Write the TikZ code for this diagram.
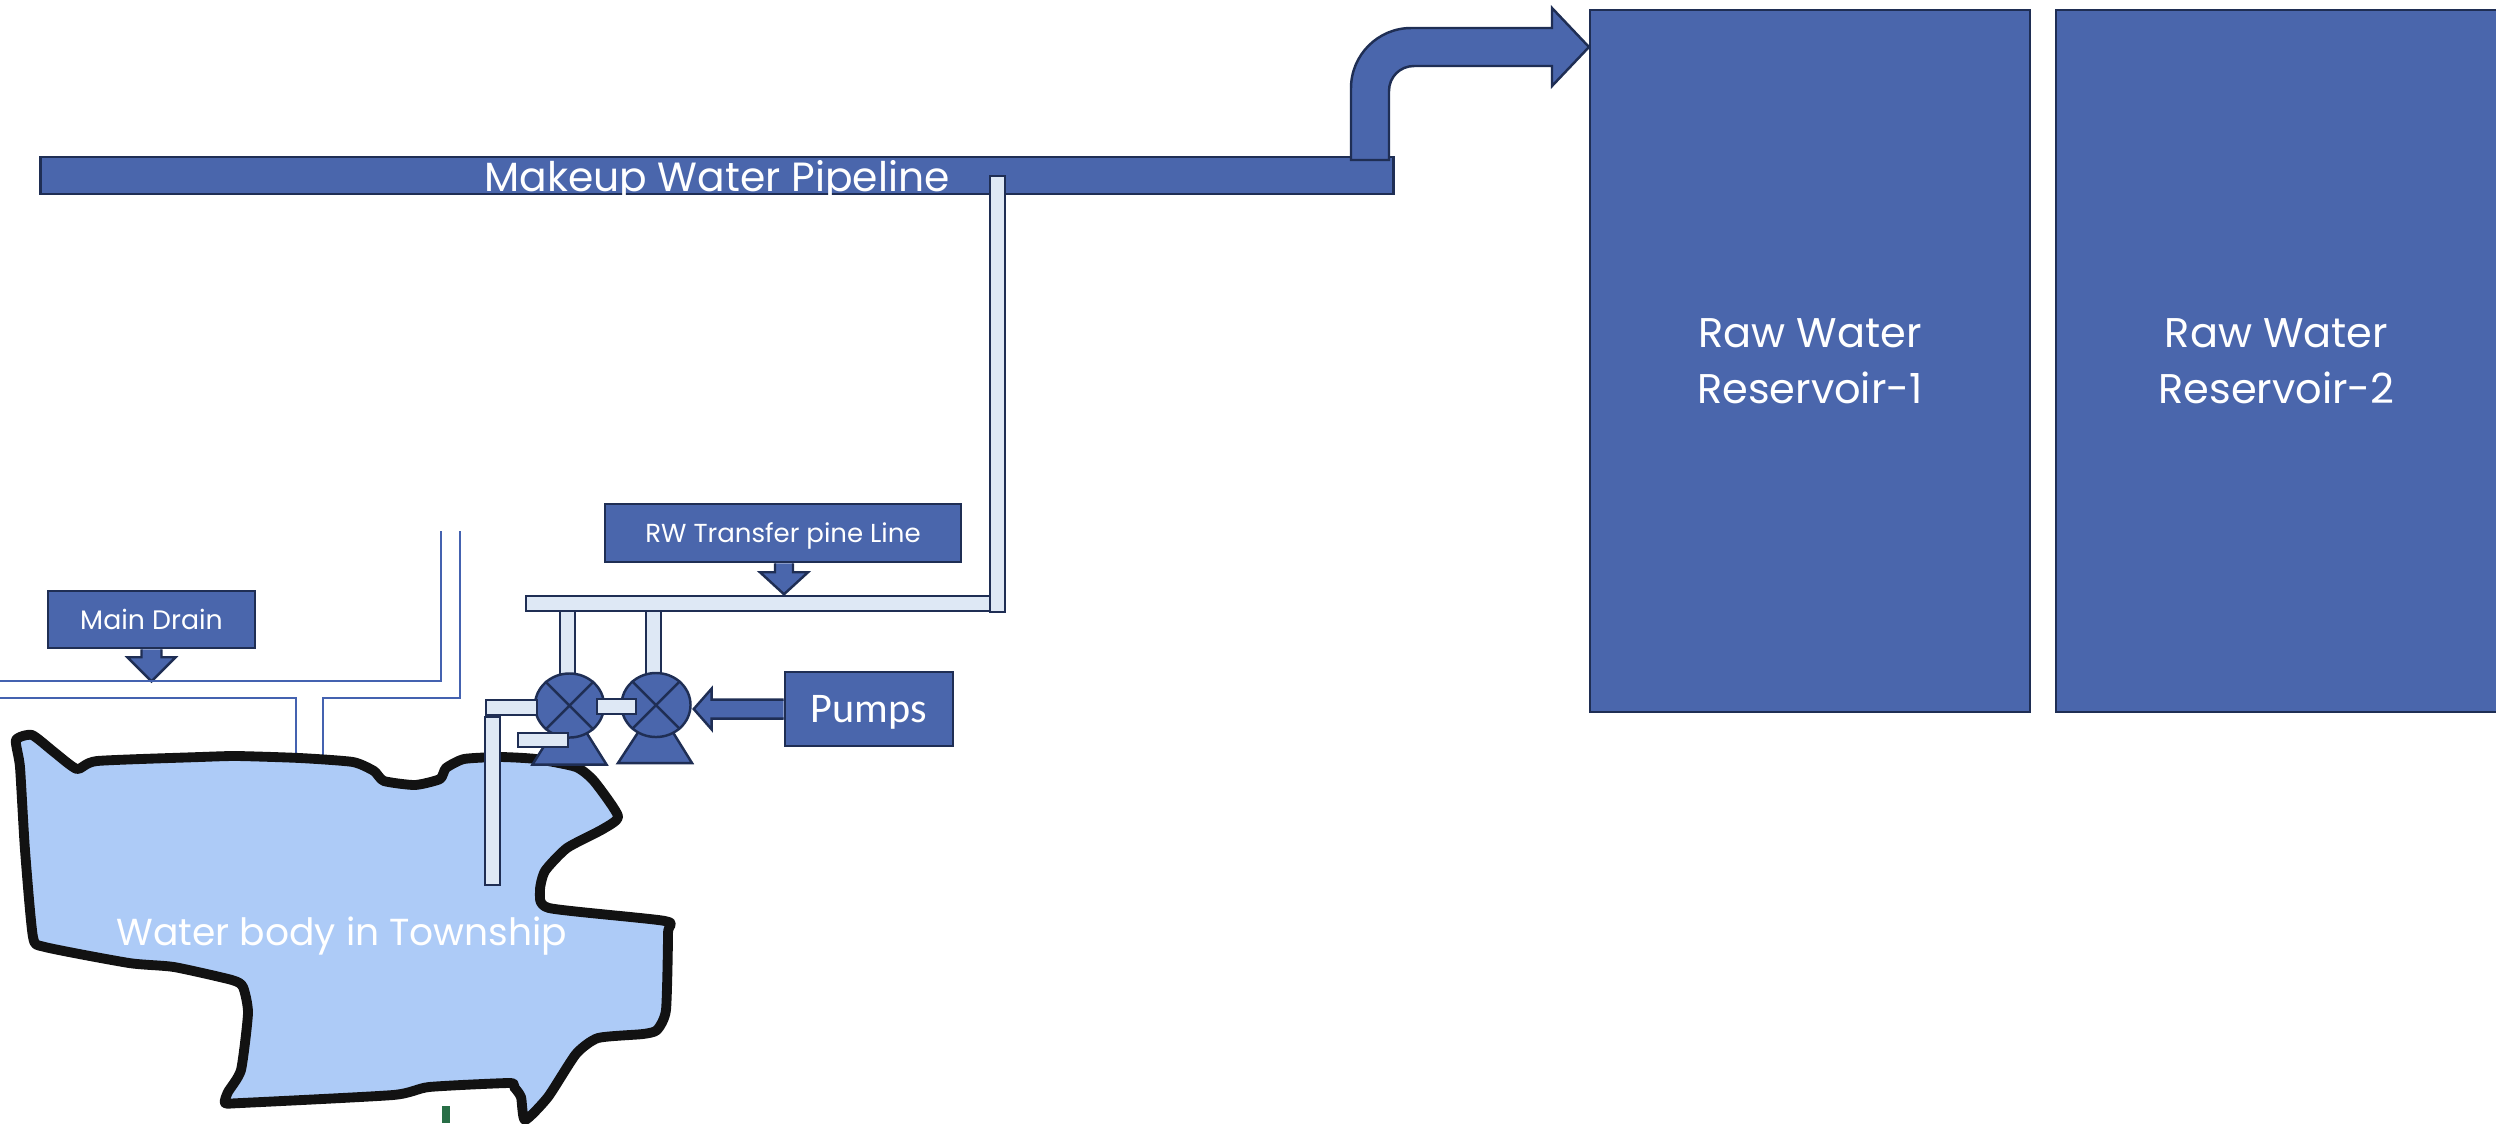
\documentclass[tikz,border=0pt]{standalone}
\usepackage{fontspec}
\setmainfont{Poppins}
\newfontfamily\pumpsfont{Carlito}
\usetikzlibrary{shapes.geometric,backgrounds}
\definecolor{pipeblue}{RGB}{74,102,172}
\definecolor{edgeblue}{RGB}{31,46,84}
\definecolor{palepipe}{RGB}{222,232,245}
\definecolor{waterblue}{RGB}{173,203,247}
\definecolor{drainblue}{RGB}{68,98,176}
\definecolor{markgreen}{RGB}{40,110,70}

\begin{document}
\begin{tikzpicture}[x=0.01cm,y=-0.01cm,
  bluebox/.style={draw=edgeblue,fill=pipeblue,line width=0.7pt,text=white,inner sep=0pt},
  lightpipe/.style={draw=edgeblue,fill=palepipe,line width=0.7pt},
  callout/.style={draw=edgeblue,fill=pipeblue,line width=0.7pt},
  drainline/.style={draw=drainblue,line width=0.45pt},
  pump/.style={ellipse,draw=edgeblue,fill=pipeblue,line width=0.7pt,
    minimum width=0.69cm,minimum height=0.64cm,inner sep=0pt}]
  \useasboundingbox (0,0) rectangle (2496,1123);

  \draw[drainline] (0,681) -- (441,681) -- (441,531);
  \draw[drainline] (0,698) -- (296,698) -- (296,762);
  \draw[drainline] (323,762) -- (323,698) -- (460,698) -- (460,531);

  \draw[line width=2.8pt,draw=black!93,fill=waterblue,line join=round]
    plot[smooth cycle,tension=0.35] coordinates {
    (16,740) (32,735) (54,752) (77,769) (97,761) (200,757) (237,756)
    (300,758) (353,762) (374,771) (384,781) (415,785) (440,779) (446,768)
    (464,759) (500,757) (536,759) (576,767) (594,781) (618,816) (603,829)
    (567,848) (545,871) (540,891) (549,908) (665,921) (668,933) (666,1010)
    (657,1030) (643,1034) (598,1038) (576,1054) (548,1097) (525,1120)
    (521,1097) (514,1087) (509,1083) (429,1087) (393,1095) (241,1103)
    (225,1103) (228,1092) (241,1070) (248,1013) (243,987) (232,980)
    (174,967) (129,963) (45,947) (33,937) (25,850) (20,767)};
  \node[anchor=base,text=white,font=\fontsize{10.7}{12}\selectfont] (water) at (342,945)
    {Water body in Township};
  \draw[markgreen,line width=2pt] (446,1106) -- (446,1123);

  \node[bluebox,minimum width=13.52cm,minimum height=0.37cm,text depth=0pt,
    font=\fontsize{11.6}{14}\selectfont] (makeup) at (717,175.5) {Makeup Water Pipeline};
  \draw[callout] (1351,160) -- (1351,88) .. controls (1351,55) and (1378,28) .. (1411,28)
    -- (1552,28) -- (1552,8) -- (1589,47) -- (1552,86) -- (1552,66) -- (1414,66)
    .. controls (1400,66) and (1389,77) .. (1389,91) -- (1389,160) -- cycle;

  \node[bluebox,minimum width=4.4cm,minimum height=7.02cm,align=center,
    font=\fontsize{11.8}{15.9}\selectfont] (res1) at (1810,361) {Raw Water\\Reservoir-1};
  \node[bluebox,minimum width=4.41cm,minimum height=7.02cm,align=center,
    font=\fontsize{11.8}{15.9}\selectfont] (res2) at (2276.5,361) {Raw Water\\Reservoir-2};

  \draw[lightpipe] (526,596) rectangle (1000,611);
  \draw[lightpipe] (990,176) rectangle (1005,612);

  \coordinate (pa) at (569.5,705.5);
  \coordinate (pb) at (656,705);
  \draw[lightpipe] (560,611) rectangle (575,676);
  \draw[lightpipe] (646,611) rectangle (661,676);
  \draw[callout] (pa) -- ++(-37,59) -- ++(74,0) -- cycle;
  \draw[callout] (pb) -- ++(-38,58) -- ++(74,0) -- cycle;
  \node[pump] (pumpa) at (pa) {};
  \node[pump] (pumpb) at (pb) {};
  \foreach \p in {pumpa,pumpb} {
    \draw[edgeblue,line width=0.7pt] (\p.45) -- (\p.225) (\p.135) -- (\p.315);
  }
  \draw[lightpipe] (597,699) rectangle (636,714);
  \draw[lightpipe] (486,700) rectangle (537,715);
  \draw[lightpipe] (485,717) rectangle (500,885);
  \draw[lightpipe] (518,733) rectangle (568,747);

  \node[bluebox,minimum width=2.07cm,minimum height=0.57cm,text depth=0pt,
    font=\fontsize{7.6}{9}\selectfont] (drain) at (151.5,619.5) {Main Drain};
  \node[bluebox,minimum width=3.56cm,minimum height=0.58cm,text depth=0pt,
    font=\fontsize{7.4}{9}\selectfont] (rw) at (783,533) {RW Transfer pine Line};
  \node[bluebox,minimum width=1.68cm,minimum height=0.74cm,text depth=0pt,
    font=\pumpsfont\fontsize{12}{14}\selectfont] (pumps) at (869,709) {Pumps};

  \begin{scope}[on background layer]
    \draw[callout] (drain.south) ++(-10,0) -- ++(0,8) -- ++(-14,0) -- ++(24,24)
      -- ++(24,-24) -- ++(-14,0) -- ++(0,-8);
    \draw[callout] (rw.south) ++(-8,0) -- ++(0,9) -- ++(-15,0) -- ++(24,22)
      -- ++(24,-22) -- ++(-15,0) -- ++(0,-9);
    \draw[callout] (pumps.west) ++(0,-9.5) -- ++(-72,0) -- ++(0,-11) -- ++(-18,20.5)
      -- ++(18,20.5) -- ++(0,-11) -- ++(72,0);
  \end{scope}
\end{tikzpicture}
\end{document}
